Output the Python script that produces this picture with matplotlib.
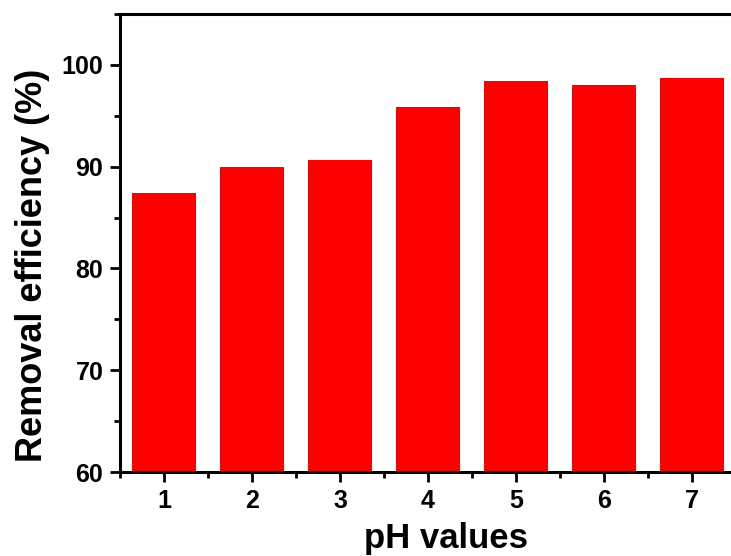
import matplotlib
matplotlib.use("Agg")
import matplotlib.pyplot as plt
from matplotlib.ticker import MultipleLocator

plt.rcParams['font.family'] = ['Liberation Sans', 'DejaVu Sans']
plt.rcParams['font.weight'] = 'bold'

ph_values = [1, 2, 3, 4, 5, 6, 7]
removal = [87.4, 89.95, 90.7, 95.85, 98.45, 98.05, 98.7]

fig = plt.figure(figsize=(7.31, 5.56), dpi=100)
ax = fig.add_axes([0.1642, 0.151, 0.8427, 0.8237])

ax.bar(ph_values, removal, width=0.72, color='#ff0000', edgecolor='none')

ax.set_xlim(0.5, 7.5)
ax.set_ylim(60, 105)
ax.set_xticks(ph_values)
ax.set_yticks([60, 70, 80, 90, 100])
ax.xaxis.set_minor_locator(MultipleLocator(0.5))
ax.yaxis.set_minor_locator(MultipleLocator(5))

for s in ax.spines.values():
    s.set_linewidth(2.2)

ax.tick_params(which='major', direction='out', length=7, width=2, labelsize=18, pad=5)
ax.tick_params(which='minor', direction='out', length=4, width=2)
ax.tick_params(top=False, right=False, which='both')
for lbl in ax.get_xticklabels() + ax.get_yticklabels():
    lbl.set_fontweight('bold')

ax.set_xlabel('pH values', fontsize=25, fontweight='bold')
ax.set_ylabel('Removal efficiency (%)', fontsize=26, fontweight='bold')
ax.xaxis.set_label_coords(0.529, -0.108)
ax.yaxis.set_label_coords(-0.113, 0.452)

fig.savefig('out.png', dpi=100)
